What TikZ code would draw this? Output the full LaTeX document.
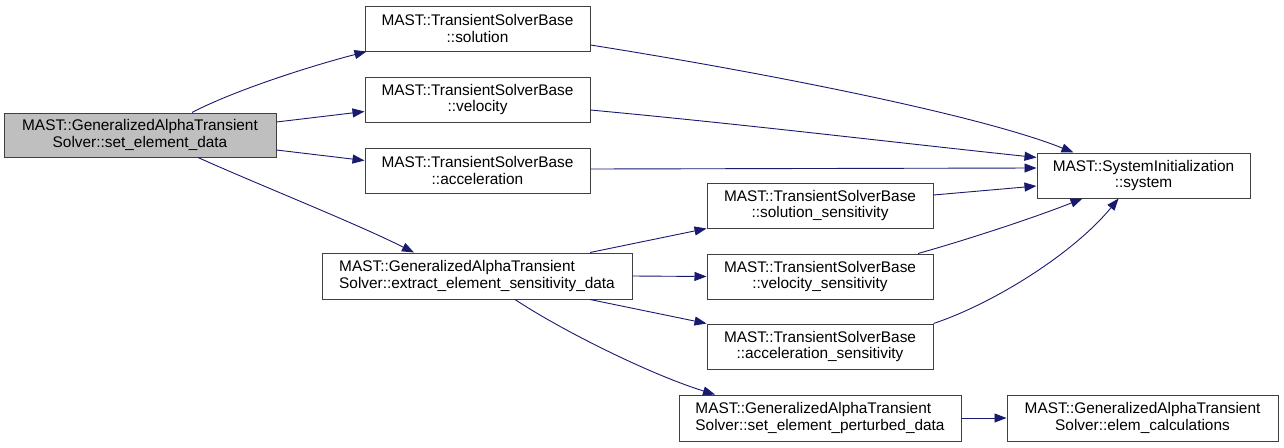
\documentclass[tikz,border=0pt]{standalone}
\usepackage{fontspec}
\setmainfont{Liberation Sans}
\usetikzlibrary{arrows.meta}
\definecolor{edgeblue}{HTML}{191970}
\definecolor{boxline}{HTML}{404040}
\definecolor{mainfill}{HTML}{BFBFBF}
\tikzset{
  box/.style={draw=boxline, line width=1pt, fill=white, inner sep=0pt, align=center, font=\fontsize{15.4}{16.5}\selectfont},
  lbox/.style={box, align=left},
  edge/.style={draw=edgeblue, line width=0.9pt, -{Triangle[length=12pt,width=9pt]}},
}
\begin{document}
\begin{tikzpicture}[x=1pt,y=-1pt]
\useasboundingbox (0,0) rectangle (1284,447);
\fill[white] (0,0) rectangle (1284,447);
% nodes
\node[box, fill=mainfill, minimum width=272pt, minimum height=44pt] (main) at (140,135) {MAST::GeneralizedAlphaTransient\\Solver::set\_element\_data};
\node[box, minimum width=225pt, minimum height=45pt] (sol) at (477.5,28.5) {MAST::TransientSolverBase\\::solution};
\node[box, minimum width=225pt, minimum height=45pt] (vel) at (477.5,99.5) {MAST::TransientSolverBase\\::velocity};
\node[box, minimum width=225pt, minimum height=45pt] (acc) at (477.5,170.5) {MAST::TransientSolverBase\\::acceleration};
\node[lbox, minimum width=310pt, minimum height=46pt] (ext) at (477,276) {MAST::GeneralizedAlphaTransient\\Solver::extract\_element\_sensitivity\_data};
\node[box, minimum width=226pt, minimum height=45pt] (solsens) at (820,205.5) {MAST::TransientSolverBase\\::solution\_sensitivity};
\node[box, minimum width=226pt, minimum height=45pt] (velsens) at (820,276.5) {MAST::TransientSolverBase\\::velocity\_sensitivity};
\node[box, minimum width=226pt, minimum height=45pt] (accsens) at (820,346.5) {MAST::TransientSolverBase\\::acceleration\_sensitivity};
\node[lbox, minimum width=282pt, minimum height=46pt] (pert) at (820,418) {MAST::GeneralizedAlphaTransient\\Solver::set\_element\_perturbed\_data};
\node[box, minimum width=271pt, minimum height=46pt] (elem) at (1142.5,418) {MAST::GeneralizedAlphaTransient\\Solver::elem\_calculations};
\node[box, minimum width=213pt, minimum height=45pt] (sys) at (1143.5,175.5) {MAST::SystemInitialization\\::system};
% edges
\draw[edge] ([xshift=52pt]main.north) .. controls +(38,-20) and +(-65,17) .. ([xshift=2pt]sol.south west);
\draw[edge] ([yshift=13pt]main.east) -- ([yshift=-12pt]vel.west);
\draw[edge] ([yshift=-15pt]main.east) -- ([yshift=10pt]acc.west);
\draw[edge] ([xshift=58pt]main.south) .. controls +(60,27) and +(-60,-30) .. ([xshift=-63pt]ext.north);
\draw[edge] ([yshift=-16.5pt]sol.east) .. controls +(170,27) and +(-95,-38) .. ([xshift=-70pt]sys.north);
\draw[edge] ([yshift=-10.5pt]vel.east) .. controls +(160,15) and +(-160,-17) .. ([yshift=18pt]sys.west);
\draw[edge] ([yshift=1.5pt]acc.east) -- ([yshift=7.5pt]sys.west);
\draw[edge] ([xshift=113pt]ext.north) -- (solsens.south west);
\draw[edge] (ext.east) -- (velsens.west);
\draw[edge] ([xshift=113pt]ext.south) -- (accsens.north west);
\draw[edge] ([xshift=38pt]ext.south) .. controls +(45,30) and +(-65,-20) .. ([xshift=-105pt]pert.north);
\draw[edge] ([yshift=10.5pt]solsens.east) -- ([yshift=-10.5pt]sys.west);
\draw[edge] ([xshift=98pt]velsens.north) .. controls +(50,-14) and +(-45,18) .. ([xshift=-61pt]sys.south);
\draw[edge] (accsens.north east) .. controls +(60,-20) and +(-45,55) .. ([xshift=-25pt]sys.south);
\draw[edge] (pert.east) -- (elem.west);
\end{tikzpicture}
\end{document}
